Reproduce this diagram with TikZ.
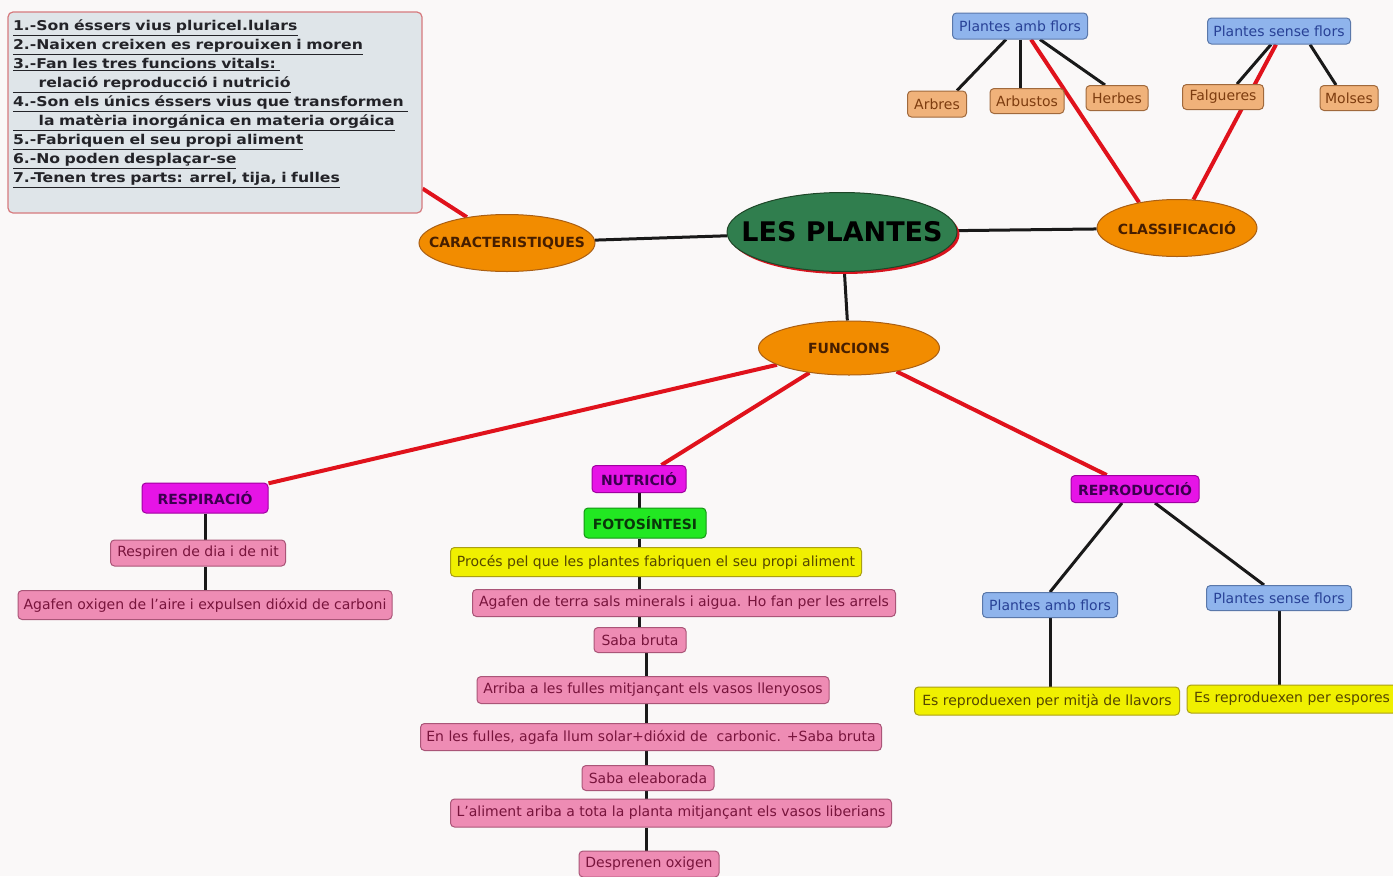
\documentclass[tikz,border=0pt]{standalone}
\usepackage{fontspec}
\setmainfont{DejaVu Sans}
\newfontfamily\infofont[FakeStretch=1.16]{DejaVu Sans}
\usetikzlibrary{shapes.geometric,shadows,calc}
\definecolor{bg}{RGB}{250,248,248}
\definecolor{infoF}{RGB}{223,229,233}
\definecolor{infoD}{RGB}{214,122,126}
\definecolor{infoT}{RGB}{35,35,40}
\definecolor{ovF}{RGB}{242,140,0}
\definecolor{ovD}{RGB}{170,95,20}
\definecolor{ovT}{RGB}{70,30,0}
\definecolor{plF}{RGB}{48,126,78}
\definecolor{plD}{RGB}{30,70,40}
\definecolor{shR}{RGB}{215,20,30}
\definecolor{lineR}{RGB}{224,18,28}
\definecolor{lineK}{RGB}{25,25,25}
\definecolor{pinkF}{RGB}{238,140,180}
\definecolor{pinkD}{RGB}{170,85,120}
\definecolor{pinkT}{RGB}{120,20,60}
\definecolor{yelF}{RGB}{240,240,0}
\definecolor{yelD}{RGB}{170,160,20}
\definecolor{yelT}{RGB}{85,70,0}
\definecolor{bluF}{RGB}{143,180,236}
\definecolor{bluD}{RGB}{90,120,170}
\definecolor{bluT}{RGB}{40,65,150}
\definecolor{peaF}{RGB}{240,178,122}
\definecolor{peaD}{RGB}{160,105,60}
\definecolor{peaT}{RGB}{125,60,15}
\definecolor{magF}{RGB}{230,20,230}
\definecolor{magD}{RGB}{160,0,160}
\definecolor{magT}{RGB}{60,0,80}
\definecolor{grnF}{RGB}{34,232,34}
\definecolor{grnD}{RGB}{20,150,20}
\definecolor{grnT}{RGB}{10,55,10}
\pgfdeclarelayer{back}
\pgfsetlayers{back,main}
\newcommand{\zw}[1]{\makebox[0pt]{#1}}
\tikzset{
  sz/.style 2 args={minimum width=#1pt, minimum height=#2pt},
  lbl/.style={rounded corners=4pt, draw, line width=1pt, inner sep=0pt, align=center,
    font=\fontsize{14}{16}\selectfont},
  pinkbox/.style={lbl, fill=pinkF, draw=pinkD, text=pinkT},
  yelbox/.style={lbl, fill=yelF, draw=yelD, text=yelT},
  blubox/.style={lbl, fill=bluF, draw=bluD, text=bluT},
  peabox/.style={lbl, fill=peaF, draw=peaD, text=peaT},
  magbox/.style={lbl, fill=magF, draw=magD, text=magT, font=\fontsize{14}{16}\selectfont\bfseries},
  grnbox/.style={lbl, fill=grnF, draw=grnD, text=grnT, font=\fontsize{14}{16}\selectfont\bfseries},
  oval/.style={ellipse, draw=ovD, fill=ovF, text=ovT, line width=1pt, inner sep=0pt,
    font=\fontsize{14}{16}\selectfont\bfseries},
  infobox/.style={rectangle, rounded corners=5pt, draw=infoD, fill=infoF, line width=1.2pt,
    text=infoT, align=left, text width=404pt, inner xsep=5pt, inner ysep=3pt,
    font=\infofont\fontsize{13.5}{19}\selectfont\bfseries},
  redline/.style={draw=lineR, line width=4pt},
  blkline/.style={draw=lineK, line width=3pt},
}
\begin{document}
\begin{tikzpicture}[x=1pt,y=-1pt]
\path[use as bounding box] (0,0) rectangle (1393,876);
% info box
\node[infobox, sz={414}{201}] (info) at (215,112.5) {%
\underline{1.-Son éssers vius pluricel.lulars}\\
\underline{2.-Naixen creixen es reprouixen i moren}\\
\underline{3.-Fan les tres funcions vitals:\ }\\
\underline{\hspace*{1.9em}relació reproducció i nutrició}\\
\underline{4.-Son els únics éssers vius que transformen\ }\\
\underline{\hspace*{1.9em}la matèria inorgánica en materia orgáica}\\
\underline{5.-Fabriquen el seu propi aliment}\\
\underline{6.-No poden desplaçar-se}\\
\underline{7.-Tenen tres parts: arrel, tija, i fulles}\\[3pt]
\mbox{}};
% main ovals
\node[oval, sz={176}{57}] (car) at (507,243) {\zw{CARACTERISTIQUES}};
\node[oval, sz={230}{79}, fill=plF, draw=plD, text=black,
  font=\fontsize{27}{30}\selectfont\bfseries,
  drop shadow={shadow xshift=2.5pt, shadow yshift=-2.5pt, fill=shR, opacity=1}] (pl) at (842,232) {\zw{LES PLANTES}};
\node[oval, sz={160}{57}] (cla) at (1177,228) {\zw{CLASSIFICACIÓ}};
\node[oval, sz={181}{54}] (fun) at (849,348) {\zw{FUNCIONS}};
% classification
\node[blubox, sz={135}{26}] (pa1) at (1020,26) {Plantes amb flors};
\node[blubox, sz={143}{26}] (ps1) at (1279,31) {Plantes sense flors};
\node[peabox, sz={59}{26}] (arb) at (937,104) {Arbres};
\node[peabox, sz={74}{25}] (arbu) at (1027,101) {Arbustos};
\node[peabox, sz={62}{25}] (her) at (1117,98) {Herbes};
\node[peabox, sz={81}{25}] (fal) at (1223,97) {Falgueres};
\node[peabox, sz={58}{25}] (mol) at (1349,98) {Molses};
% respiracio
\node[magbox, sz={126}{30}] (resp) at (205,498) {RESPIRACIÓ};
\node[pinkbox, sz={175}{26}] (rdn) at (198,553) {Respiren de dia i de nit};
\node[pinkbox, sz={374}{29}] (aox) at (205,605) {Agafen oxigen de l'aire i expulsen dióxid de carboni};
% nutricio
\node[magbox, sz={94}{27}] (nut) at (639,479) {NUTRICIÓ};
\node[grnbox, sz={122}{30}] (foto) at (645,523) {FOTOSÍNTESI};
\node[yelbox, sz={411}{29}] (proc) at (656,562) {Procés pel que les plantes fabriquen el seu propi aliment};
\node[pinkbox, sz={423}{27}] (ater) at (684,603) {Agafen de terra sals minerals i aigua. Ho fan per les arrels};
\node[pinkbox, sz={92}{25}] (sbr) at (640,640) {Saba bruta};
\node[pinkbox, sz={352}{27}] (arr) at (653,690) {Arriba a les fulles mitjançant els vasos llenyosos};
\node[pinkbox, sz={461}{27}] (enf) at (651,737) {En les fulles, agafa llum solar+dióxid de\ \ carbonic. +Saba bruta};
\node[pinkbox, sz={132}{25}] (sel) at (648,778) {Saba eleaborada};
\node[pinkbox, sz={441}{28}] (ali) at (671,813) {L'aliment ariba a tota la planta mitjançant els vasos liberians};
\node[pinkbox, sz={140}{26}] (des) at (649,864) {Desprenen oxigen};
% reproduccio
\node[magbox, sz={128}{27}] (rep) at (1135,489) {REPRODUCCIÓ};
\node[blubox, sz={135}{25}] (pa2) at (1050,605) {Plantes amb flors};
\node[blubox, sz={145}{25}] (ps2) at (1279,598) {Plantes sense flors};
\node[yelbox, sz={265}{28}] (llav) at (1047,701) {Es reproduexen per mitjà de llavors};
\node[yelbox, sz={210}{28}] (esp) at (1292,699) {Es reproduexen per espores};
\coordinate (sp1) at (639,0);
\coordinate (sp2) at (646,0);
\begin{pgfonlayer}{back}
\fill[bg] (0,0) rectangle (1393,876);
% red connectors
\draw[redline] ($(info.south east)+(0,-25)$) -- (car);
\draw[redline] ($(pa1.south)+(11,0)$) -- (cla.146);
\draw[redline] ($(ps1.south)+(-3,0)$) -- (cla.60);
\draw[redline] (fun) -- (resp);
\draw[redline] (fun) -- (nut);
\draw[redline] (fun) -- (rep);
% black connectors
\draw[blkline] (car) -- (pl);
\draw[blkline] (pl) -- (cla);
\draw[blkline] (pl) -- (fun);
\draw[blkline] ($(pa1.south)+(-14,0)$) -- ($(arb.north)+(20,0)$);
\draw[blkline] (pa1.south) -- (pa1.south |- arbu.north);
\draw[blkline] ($(pa1.south)+(20,0)$) -- ($(her.north)+(-12,0)$);
\draw[blkline] ($(ps1.south)+(-8,0)$) -- ($(fal.north)+(14,0)$);
\draw[blkline] ($(ps1.south)+(31,0)$) -- ($(mol.north)+(-13,0)$);
\draw[blkline] (resp.south) -- (resp.south |- rdn.north);
\draw[blkline] (rdn.south -| resp) -- (aox.north -| resp);
\draw[blkline] (nut.south -| sp1) -- (foto.north -| sp1);
\draw[blkline] (foto.south -| sp1) -- (proc.north -| sp1);
\draw[blkline] (proc.south -| sp1) -- (ater.north -| sp1);
\draw[blkline] (ater.south -| sp1) -- (sbr.north -| sp1);
\draw[blkline] (sbr.south -| sp2) -- (arr.north -| sp2);
\draw[blkline] (arr.south -| sp2) -- (enf.north -| sp2);
\draw[blkline] (enf.south -| sp2) -- (sel.north -| sp2);
\draw[blkline] (sel.south -| sp2) -- (ali.north -| sp2);
\draw[blkline] (ali.south -| sp2) -- (des.north -| sp2);
\draw[blkline] ($(rep.south)+(-13,0)$) -- (pa2.north);
\draw[blkline] ($(rep.south)+(20,0)$) -- ($(ps2.north)+(-15,0)$);
\draw[blkline] (pa2.south) -- (pa2.south |- llav.north);
\draw[blkline] (ps2.south) -- (ps2.south |- esp.north);
\end{pgfonlayer}
\end{tikzpicture}
\end{document}
